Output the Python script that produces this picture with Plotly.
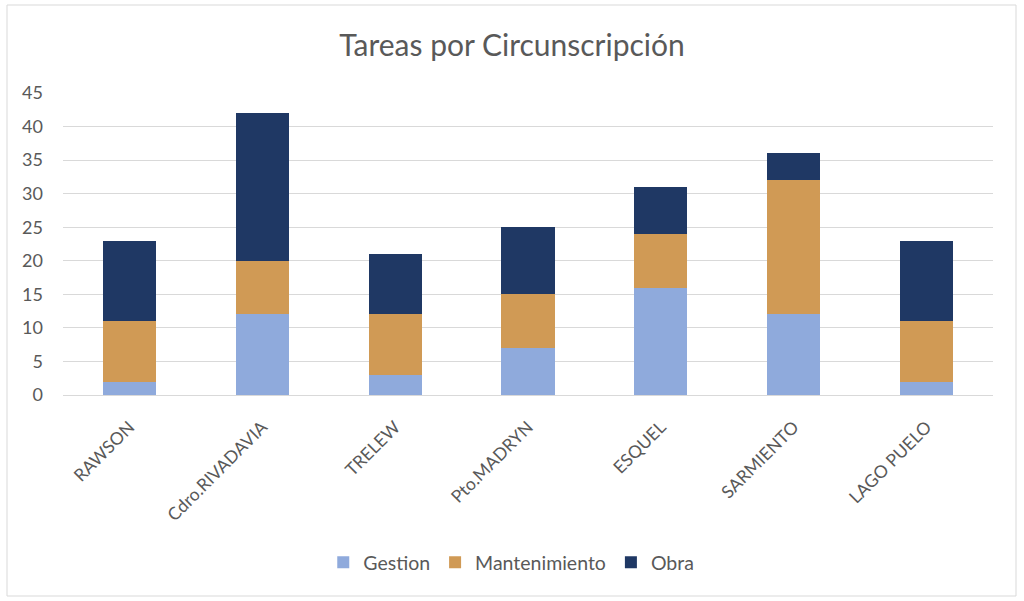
import plotly.graph_objects as go

categories = ["RAWSON", "Cdro.RIVADAVIA", "TRELEW", "Pto.MADRYN", "ESQUEL", "SARMIENTO", "LAGO PUELO"]
gestion = [2, 12, 3, 7, 16, 12, 2]
mantenimiento = [9, 8, 9, 8, 8, 20, 9]
obra = [12, 22, 9, 10, 7, 4, 12]
y_ticks = [0, 5, 10, 15, 20, 25, 30, 35, 40, 45]

series = [("Gestion", gestion, "#8FAADC"),
          ("Mantenimiento", mantenimiento, "#D09A55"),
          ("Obra", obra, "#1F3864")]

fig = go.Figure()
for name, vals, color in series:
    fig.add_trace(go.Bar(x=categories, y=vals, name=name, marker_color=color,
                         marker_line_width=0, width=0.4))

font_family = "Lato"
gray = "#595959"
fig.update_layout(
    barmode="stack",
    width=1024, height=601,
    margin=dict(l=63, r=31, t=93, b=206),
    paper_bgcolor="white", plot_bgcolor="white",
    title=dict(text="Tareas por Circunscripción", x=0.5, xanchor="center",
               y=1 - 45 / 601, yanchor="middle",
               font=dict(family=font_family, size=30, color=gray)),
    font=dict(family=font_family, color=gray),
    showlegend=True,
    legend=dict(orientation="h", x=0.482, xanchor="center", y=-0.555, yanchor="middle",
                font=dict(family=font_family, size=19.5, color=gray), traceorder="normal",
                itemwidth=30),
    yaxis=dict(range=[0, 45], tickvals=y_ticks, showgrid=True, gridcolor="#D9D9D9",
               gridwidth=1, zeroline=False, showline=False,
               tickfont=dict(size=18, color=gray), ticks="", ticklabelstandoff=19),
    xaxis=dict(tickangle=-45, showline=True, linecolor="#D9D9D9", linewidth=1,
               tickfont=dict(size=17.5, color=gray), ticks="", ticklabelstandoff=14),
    bargap=0.6,
)
fig.add_shape(type="rect", xref="paper", yref="paper",
              x0=(7 - 63) / 930, x1=(1016 - 63) / 930,
              y0=(395 - 596) / 302, y1=(395 - 5) / 302,
              line=dict(color="#D9D9D9", width=1), fillcolor="rgba(0,0,0,0)", layer="below")
fig.write_html("out.html", config={"displayModeBar": False},
               post_script="document.body.style.margin='0px';")
